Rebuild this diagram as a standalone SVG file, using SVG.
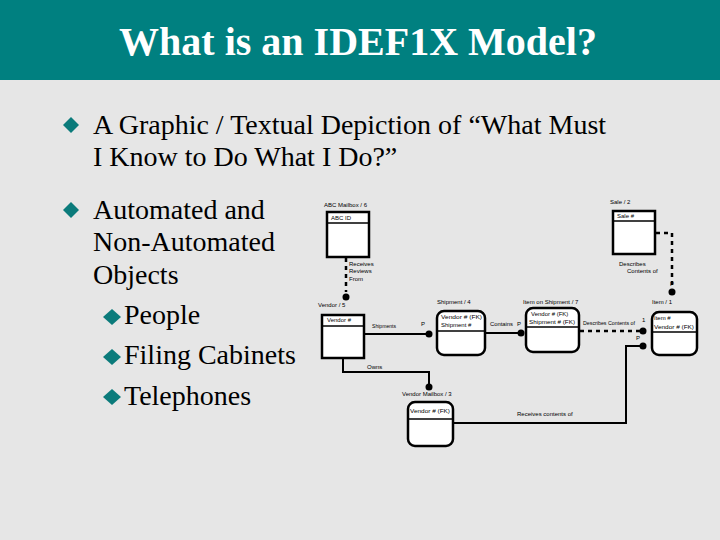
<svg xmlns="http://www.w3.org/2000/svg" width="720" height="540" viewBox="0 0 720 540">
<style>
.bg{fill:#e6e6e6}
.bar{fill:#008080}
.title{font-family:'Liberation Serif','Times New Roman','DejaVu Serif',serif;font-weight:bold;font-size:40px;fill:#ffffff}
.txt{font-family:'Liberation Serif','Times New Roman','DejaVu Serif',serif;font-size:28px;fill:#000}
.dia{fill:#0b7b7b}
.lbl{font-family:'Liberation Sans',Arial,sans-serif;font-size:6px;fill:#000}
.ent{fill:#fff;stroke:#000;stroke-width:2.5}
.sep{stroke:#000;stroke-width:1.5}
.ln{fill:none;stroke:#000;stroke-width:2}
.dash{fill:none;stroke:#000;stroke-width:2.5;stroke-dasharray:4 4}
.dot{fill:#000}
</style>
<rect class="bg" x="0" y="0" width="720" height="540"/>
<rect class="bar" x="0" y="0" width="720" height="80"/>
<text class="title" x="358" y="55" text-anchor="middle">What is an IDEF1X Model?</text>

<g id="bullets">
<polygon class="dia" points="71,117 79,125 71,133 63,125"/>
<text class="txt" x="93" y="134">A Graphic / Textual Depiction of  “What Must</text>
<text class="txt" x="93" y="166">I Know to Do What I Do?”</text>
<polygon class="dia" points="71,202 79,210 71,218 63,210"/>
<text class="txt" x="93" y="219">Automated and</text>
<text class="txt" x="93" y="251">Non-Automated</text>
<text class="txt" x="93" y="284">Objects</text>
<polygon class="dia" points="112,309 121,317 112,325 103,317"/>
<text class="txt" x="124" y="324">People</text>
<polygon class="dia" points="112,349 121,357 112,365 103,357"/>
<text class="txt" x="124" y="364">Filing Cabinets</text>
<polygon class="dia" points="112,389 121,397 112,405 103,397"/>
<text class="txt" x="124" y="405">Telephones</text>
</g>

<g id="connectors">
<path class="dash" d="M346,258 V292"/>
<circle class="dot" cx="346" cy="297" r="3.5"/>
<text class="lbl" x="349" y="266">Receives</text>
<text class="lbl" x="349" y="273">Reviews</text>
<text class="lbl" x="349" y="281">From</text>

<path class="dash" d="M656,233 H672 V287"/>
<circle class="dot" cx="672" cy="292" r="3.5"/>
<text class="lbl" x="619" y="266">Describes</text>
<text class="lbl" x="627" y="273">Contents of</text>
<text class="lbl" x="670" y="286">P</text>

<path class="ln" d="M365,334 H426"/>
<circle class="dot" cx="429" cy="334" r="3.5"/>
<text class="lbl" x="372" y="328" textLength="24" lengthAdjust="spacingAndGlyphs">Shipments</text>
<text class="lbl" x="421" y="326">P</text>

<path class="ln" d="M343,358 V372 H429 V384"/>
<circle class="dot" cx="429" cy="387" r="3.5"/>
<text class="lbl" x="367" y="369">Owns</text>

<path class="ln" d="M486,333 H518"/>
<circle class="dot" cx="521" cy="333" r="3.5"/>
<text class="lbl" x="490" y="326" textLength="23" lengthAdjust="spacingAndGlyphs">Contains</text>
<text class="lbl" x="517" y="326">P</text>

<path class="dash" d="M580,331 H640"/>
<circle class="dot" cx="643" cy="331" r="3.5"/>
<text class="lbl" x="583" y="325" textLength="52" lengthAdjust="spacingAndGlyphs">Describes  Contents of</text>
<text class="lbl" x="642" y="322">1</text>

<path class="ln" d="M454,423 H626 V346 H640"/>
<circle class="dot" cx="643" cy="346" r="3.5"/>
<text class="lbl" x="636" y="340">P</text>
<text class="lbl" x="517" y="416">Receives contents of</text>
</g>

<g id="abc-mailbox">
<text class="lbl" x="324" y="207">ABC Mailbox / 6</text>
<rect class="ent" x="327" y="212" width="42" height="45"/>
<line class="sep" x1="327" y1="223" x2="369" y2="223"/>
<text class="lbl" x="331" y="220">ABC ID</text>
</g>

<g id="sale">
<text class="lbl" x="610" y="204">Sale / 2</text>
<rect class="ent" x="613" y="211" width="42" height="43"/>
<line class="sep" x1="613" y1="221" x2="655" y2="221"/>
<text class="lbl" x="617" y="218">Sale #</text>
</g>

<g id="vendor">
<text class="lbl" x="318" y="307">Vendor / 5</text>
<rect class="ent" x="322" y="315" width="42" height="43"/>
<line class="sep" x1="322" y1="326" x2="364" y2="326"/>
<text class="lbl" x="327" y="322">Vendor #</text>
</g>

<g id="shipment">
<text class="lbl" x="437" y="304">Shipment / 4</text>
<rect class="ent" x="437" y="311" width="48" height="44" rx="7"/>
<line class="sep" x1="437" y1="331" x2="485" y2="331"/>
<text class="lbl" x="441" y="319" textLength="41" lengthAdjust="spacingAndGlyphs">Vendor # (FK)</text>
<text class="lbl" x="441" y="327">Shipment #</text>
</g>

<g id="item-on-shipment">
<text class="lbl" x="523" y="304">Item on Shipment / 7</text>
<rect class="ent" x="526" y="308" width="53" height="44" rx="7"/>
<line class="sep" x1="526" y1="327" x2="579" y2="327"/>
<text class="lbl" x="531" y="316">Vendor # (FK)</text>
<text class="lbl" x="529" y="324" textLength="46" lengthAdjust="spacingAndGlyphs">Shipment # (FK)</text>
</g>

<g id="item">
<text class="lbl" x="652" y="304">Item / 1</text>
<rect class="ent" x="652" y="312" width="45" height="43" rx="7"/>
<line class="sep" x1="652" y1="332" x2="697" y2="332"/>
<text class="lbl" x="654" y="320">Item #</text>
<text class="lbl" x="654" y="329" textLength="40" lengthAdjust="spacingAndGlyphs">Vendor # (FK)</text>
</g>

<g id="vendor-mailbox">
<text class="lbl" x="402" y="396">Vendor Mailbox / 3</text>
<rect class="ent" x="408" y="402" width="45" height="44" rx="7"/>
<line class="sep" x1="408" y1="419" x2="453" y2="419"/>
<text class="lbl" x="410" y="413" textLength="40" lengthAdjust="spacingAndGlyphs">Vendor # (FK)</text>
</g>
</svg>
